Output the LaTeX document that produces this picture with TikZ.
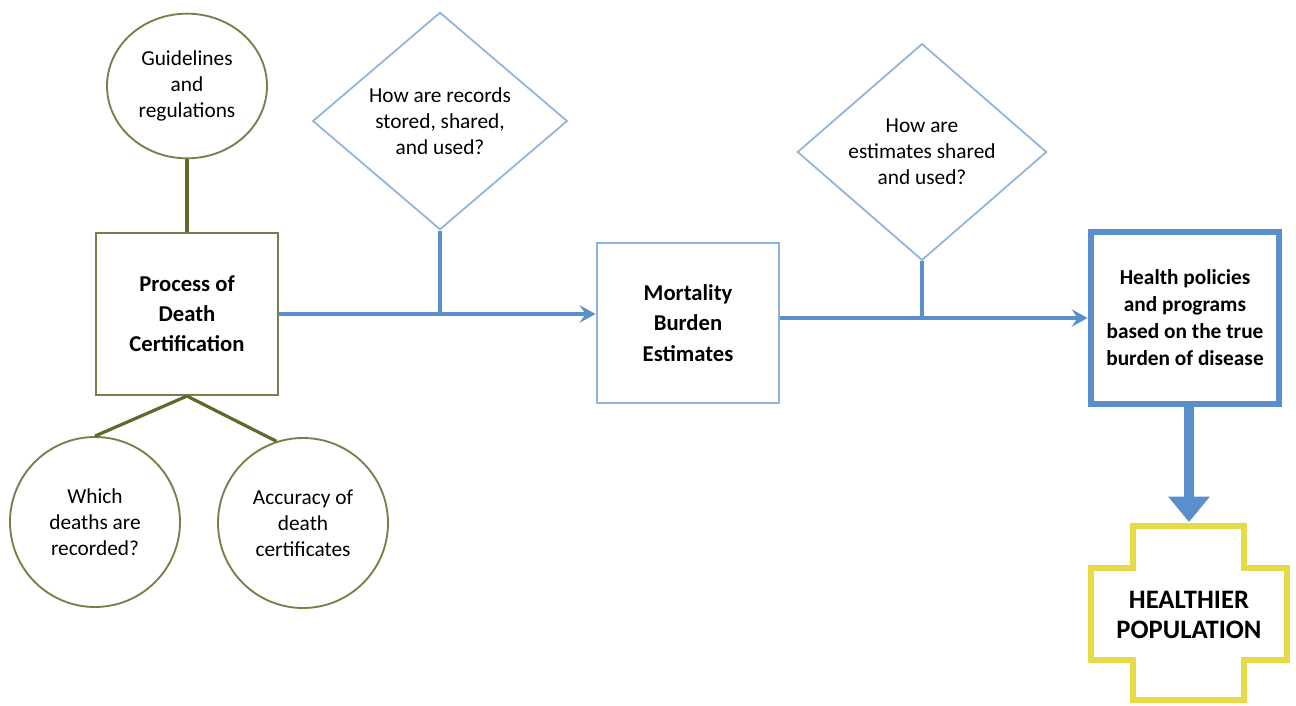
\documentclass[tikz,border=0pt]{standalone}
\usepackage{fontspec}
\setmainfont{Carlito}
\usepackage{xcolor}
\usepackage{tikz}
\usetikzlibrary{shapes,arrows.meta,positioning}

\definecolor{olivedark}{HTML}{5C6A2C}
\definecolor{olivebox}{HTML}{76804A}
\definecolor{bluethin}{HTML}{8FB4DB}
\definecolor{blueline}{HTML}{5B8FCB}
\definecolor{yellowx}{HTML}{E6DA48}

\begin{document}
\begin{tikzpicture}[
  x=0.75pt, y=-0.75pt,
  bubble/.style={circle,draw=olivebox,line width=1.4pt,align=center,inner sep=0pt,
    minimum size=127.5pt,font=\fontsize{16}{19.5}\selectfont},
  procbox/.style={rectangle,draw=olivebox,line width=1.6pt,align=center,
    minimum width=137pt,minimum height=121.5pt,font=\bfseries\fontsize{17}{22.5}\selectfont},
  question/.style={diamond,draw=bluethin,line width=1.3pt,align=center,inner sep=0pt,
    minimum width=191pt,minimum height=163pt,font=\fontsize{16}{19.5}\selectfont},
  stem/.style={olivedark,line width=2.4pt},
  flow/.style={blueline,line width=2.3pt},
  flowarrow/.style={flow,-{Stealth[length=12pt,width=13pt,inset=4.5pt]}}
]
\useasboundingbox (0,0) rectangle (1296,706);

% Death certification
\node[bubble,ellipse,minimum width=120pt,minimum height=108.5pt] (guide) at (187,86)
  {Guidelines\\and\\regulations};
\node[procbox] (proc) at (187,314) {Process of\\Death\\Certification};
\node[bubble] (which) at (95,522) {Which\\deaths are\\recorded?};
\node[bubble] (accur) at (303,523) {Accuracy of\\death\\certificates};

\draw[stem] (guide.south) -- (proc.north);
\draw[stem] (proc.south) -- (which.north);
\draw[stem] (proc.south) -- (accur.108);

% Questions
\node[question] (records) at (440,121) {How are records\\stored, shared,\\and used?};
\node[question,minimum width=187pt,minimum height=162.5pt] (shared) at (922,152)
  {How are\\estimates shared\\and used?};

% Estimates and policies
\node[procbox,draw=bluethin,minimum height=120pt,
  font=\bfseries\fontsize{17}{23}\selectfont] (mort) at (688,323) {Mortality\\Burden\\Estimates};
\node[rectangle,draw=blueline,line width=4.5pt,align=center,minimum width=141.5pt,
  minimum height=129.5pt,font=\bfseries\fontsize{16}{20.25}\selectfont] (policy) at (1185,318)
  {Health policies\\and programs\\based on the true\\burden of disease};

\draw[flowarrow] (proc.east) -- (proc.east -| mort.west);
\draw[flow] (records.south) -- (records.south |- proc.east);
\draw[flowarrow] (mort.east |- policy.west) -- (policy.west);
\draw[flow] (shared.south) -- (shared.south |- policy.west);

% Healthier population
\draw[yellowx,line width=4.5pt,line join=miter]
  (1133,526) -- (1244,526) -- (1244,568) -- (1287,568) -- (1287,660) -- (1244,660)
  -- (1244,700) -- (1133,700) -- (1133,660) -- (1091,660) -- (1091,568) -- (1133,568) -- cycle;
\coordinate (crosstop) at (1189,522);
\node[align=center,font=\bfseries\fontsize{20}{22.5}\selectfont] (pop) at (1189,615)
  {HEALTHIER\\POPULATION};

\draw[blueline,line width=7.5pt,-{Triangle[length=19pt,width=30pt]}]
  (policy.south -| crosstop) -- (crosstop);

\end{tikzpicture}
\end{document}
